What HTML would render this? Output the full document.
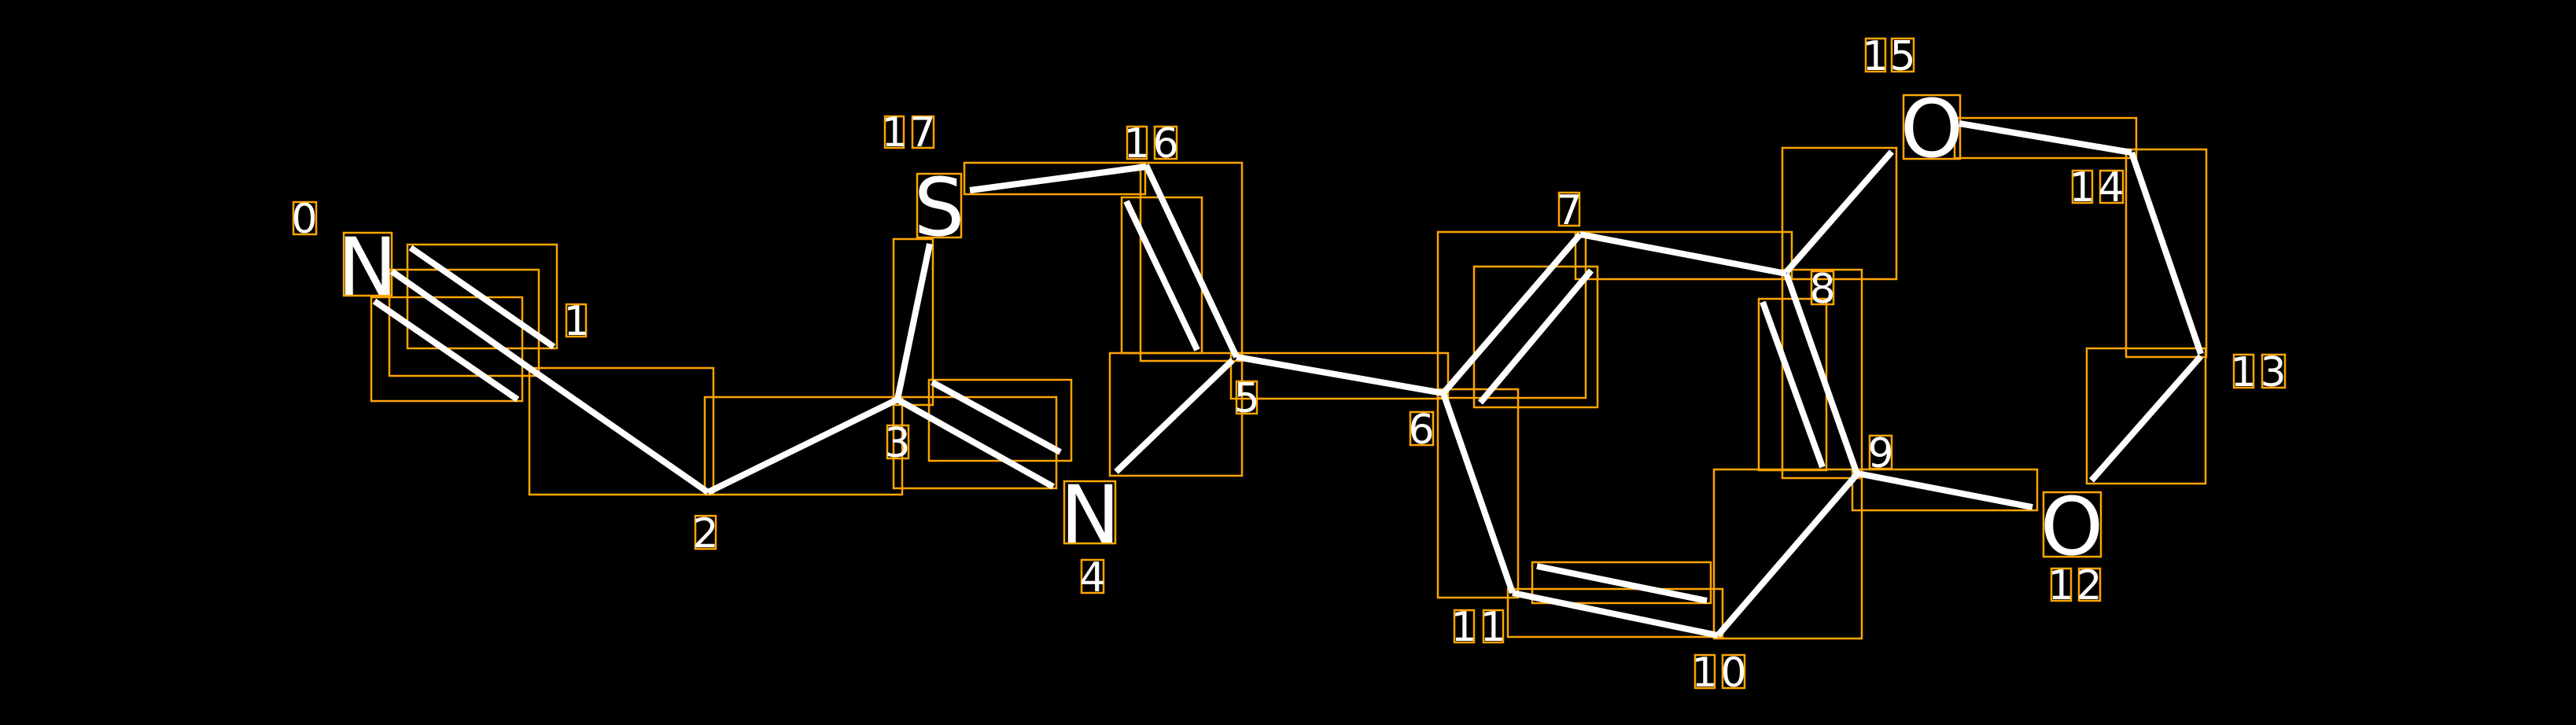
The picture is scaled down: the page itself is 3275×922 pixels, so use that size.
<!DOCTYPE html>
<html><head><meta charset="utf-8"><style>
html,body{margin:0;padding:0;background:#000;}
svg{display:block}
text{font-family:"DejaVu Sans","Liberation Sans",sans-serif;fill:#fff}
</style></head><body>
<svg width="3275" height="922" viewBox="0 0 3275 922" xmlns="http://www.w3.org/2000/svg">
<rect width="3275" height="922" fill="#000"/>
<g stroke="#FFA500" stroke-width="2.5" fill="none">
<rect x="472" y="378" width="192" height="132"/>
<rect x="495" y="343" width="190" height="135"/>
<rect x="518" y="311" width="190" height="132"/>
<rect x="673" y="468" width="234" height="161"/>
<rect x="896" y="505" width="251" height="124"/>
<rect x="1136" y="304" width="50" height="211"/>
<rect x="1136" y="505" width="207" height="116"/>
<rect x="1181" y="483" width="181" height="103"/>
<rect x="1226" y="207" width="230" height="40"/>
<rect x="1450" y="207" width="129" height="252"/>
<rect x="1426" y="251" width="102" height="198"/>
<rect x="1411" y="449" width="168" height="156"/>
<rect x="1565" y="449" width="276" height="58"/>
<rect x="1828" y="295" width="188" height="211"/>
<rect x="1874" y="339" width="157" height="179"/>
<rect x="2003" y="295" width="275" height="60"/>
<rect x="2266" y="188" width="145" height="167"/>
<rect x="2266" y="343" width="101" height="265"/>
<rect x="2236" y="380" width="86" height="218"/>
<rect x="2179" y="597" width="188" height="215"/>
<rect x="1917" y="749" width="273" height="61"/>
<rect x="1948" y="715" width="227" height="52"/>
<rect x="1828" y="495" width="102" height="265"/>
<rect x="2485" y="150" width="231" height="51"/>
<rect x="2703" y="190" width="102" height="264"/>
<rect x="2653" y="443" width="151" height="172"/>
<rect x="2355" y="597" width="235" height="52"/>
<rect x="437" y="296" width="61" height="80"/>
<rect x="1166" y="221" width="56" height="81"/>
<rect x="1353" y="612" width="65" height="79"/>
<rect x="2420" y="121" width="72" height="81"/>
<rect x="2598" y="626" width="73" height="82"/>
<rect x="373" y="257" width="29" height="41"/>
<rect x="720" y="387" width="25" height="41"/>
<rect x="884" y="656" width="26" height="42"/>
<rect x="1128" y="541" width="27" height="42"/>
<rect x="1125" y="148" width="24" height="40"/><rect x="1160" y="148" width="27" height="40"/>
<rect x="1433" y="161" width="25" height="41"/><rect x="1468" y="161" width="28" height="41"/>
<rect x="1572" y="485" width="26" height="41"/>
<rect x="1793" y="524" width="29" height="42"/>
<rect x="1375" y="712" width="28" height="42"/>
<rect x="1982" y="245" width="26" height="42"/>
<rect x="2303" y="345" width="28" height="42"/>
<rect x="2377" y="554" width="28" height="42"/>
<rect x="2155" y="833" width="25" height="42"/><rect x="2190" y="833" width="28" height="42"/>
<rect x="1849" y="776" width="25" height="41"/><rect x="1886" y="776" width="25" height="41"/>
<rect x="2608" y="723" width="25" height="41"/><rect x="2643" y="723" width="27" height="41"/>
<rect x="2840" y="451" width="25" height="42"/><rect x="2876" y="451" width="29" height="42"/>
<rect x="2635" y="217" width="25" height="41"/><rect x="2670" y="217" width="29" height="41"/>
<rect x="2372" y="49" width="25" height="42"/><rect x="2405" y="49" width="28" height="42"/>
</g>
<g stroke="#fff" stroke-width="8" fill="none">
<line x1="522" y1="315" x2="704" y2="441"/>
<line x1="498" y1="345" x2="680" y2="473"/>
<line x1="476" y1="383" x2="658" y2="508"/>
<line x1="680" y1="473" x2="900" y2="626"/>
<line x1="900" y1="626" x2="1141" y2="508"/>
<line x1="1141" y1="508" x2="1182" y2="310"/>
<line x1="1233" y1="242" x2="1457" y2="212"/>
<line x1="1457" y1="210" x2="1572" y2="454"/>
<line x1="1432" y1="256" x2="1522" y2="445"/>
<line x1="1567" y1="458" x2="1419" y2="600"/>
<line x1="1141" y1="508" x2="1339" y2="619"/>
<line x1="1185" y1="486" x2="1348" y2="575"/>
<line x1="1572" y1="454" x2="1835" y2="500"/>
<line x1="1835" y1="500" x2="2009" y2="298"/>
<line x1="2023" y1="344" x2="1882" y2="512"/>
<line x1="2009" y1="298" x2="2271" y2="348"/>
<line x1="2271" y1="348" x2="2361" y2="603"/>
<line x1="2241" y1="384" x2="2317" y2="594"/>
<line x1="2361" y1="603" x2="2184" y2="808"/>
<line x1="2184" y1="808" x2="1923" y2="754"/>
<line x1="1954" y1="720" x2="2170" y2="764"/>
<line x1="1923" y1="754" x2="1835" y2="500"/>
<line x1="2271" y1="346" x2="2405" y2="193"/>
<line x1="2491" y1="157" x2="2710" y2="194"/>
<line x1="2710" y1="194" x2="2798" y2="450"/>
<line x1="2798" y1="453" x2="2659" y2="611"/>
<line x1="2361" y1="602" x2="2584" y2="645"/>
</g>
<g font-size="102" text-anchor="middle">
<text x="467" y="375">N</text>
<text x="1194" y="299">S</text>
<text x="1386" y="690">N</text>
<text x="2456" y="199">O</text>
<text x="2634" y="705">O</text>
</g>
<g font-size="52" text-anchor="middle">
<text x="387" y="296">0</text>
<text x="733" y="426">1</text>
<text x="897" y="696">2</text>
<text x="1141" y="581">3</text>
<text x="1137" y="186">1</text><text x="1173" y="186">7</text>
<text x="1445" y="200">1</text><text x="1482" y="200">6</text>
<text x="1585" y="524">5</text>
<text x="1807" y="564">6</text>
<text x="1389" y="752">4</text>
<text x="1995" y="285">7</text>
<text x="2317" y="385">8</text>
<text x="2391" y="594">9</text>
<text x="2167" y="873">1</text><text x="2204" y="873">0</text>
<text x="1861" y="815">1</text><text x="1898" y="815">1</text>
<text x="2620" y="762">1</text><text x="2656" y="762">2</text>
<text x="2852" y="491">1</text><text x="2890" y="491">3</text>
<text x="2647" y="256">1</text><text x="2684" y="256">4</text>
<text x="2384" y="89">1</text><text x="2419" y="89">5</text>
</g>
</svg>
</body></html>
